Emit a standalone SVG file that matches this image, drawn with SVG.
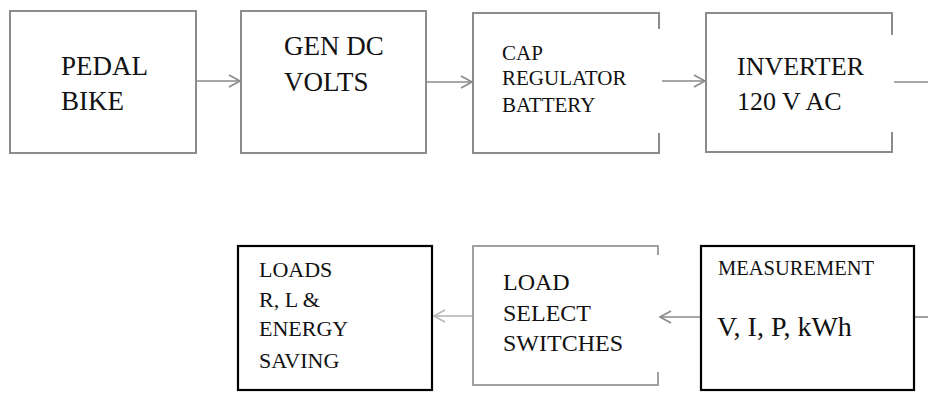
<svg xmlns="http://www.w3.org/2000/svg" width="928" height="393" viewBox="0 0 928 393">
<defs>
<style>
.gbox{fill:none;stroke:#8c8c8c;stroke-width:2}
.kbox{fill:#fff;stroke:#000;stroke-width:2.2}
.conn{fill:none;stroke:#8a8a8a;stroke-width:1.6}
.lt{stroke:#b0b0b0}
text{font-family:"Liberation Serif","DejaVu Serif",serif;fill:#111}
</style>
<marker id="ah" markerWidth="14" markerHeight="16" refX="12" refY="7" orient="auto" markerUnits="userSpaceOnUse" viewBox="0 0 14 14">
<path d="M1,1 L12,7 L1,13" fill="none" stroke="#8a8a8a" stroke-width="1.6"/>
</marker>
<marker id="ahl" markerWidth="14" markerHeight="16" refX="12" refY="7" orient="auto" markerUnits="userSpaceOnUse" viewBox="0 0 14 14">
<path d="M1,1 L12,7 L1,13" fill="none" stroke="#b8b8b8" stroke-width="1.6"/>
</marker>
</defs>
<rect width="928" height="393" fill="#fff"/>
<g id="connectors">
<line class="conn" x1="196" y1="81" x2="240" y2="81" marker-end="url(#ah)"/>
<line class="conn" x1="426" y1="82" x2="472" y2="82" marker-end="url(#ah)"/>
<line class="conn" x1="662" y1="81" x2="705" y2="81" marker-end="url(#ah)"/>
<line class="conn" x1="894" y1="82" x2="928" y2="82"/>
<line class="conn" x1="928" y1="317" x2="914" y2="317"/>
<line class="conn" x1="701" y1="317" x2="660" y2="317" marker-end="url(#ah)"/>
<line class="conn lt" x1="473" y1="316" x2="434" y2="316" marker-end="url(#ahl)"/>
</g>
<g id="pedal-bike">
<rect class="gbox" x="10" y="11" width="186" height="142"/>
<text x="61" y="75" font-size="27">PEDAL</text>
<text x="61" y="110" font-size="27">BIKE</text>
</g>
<g id="gen-dc-volts">
<rect class="gbox" x="241" y="11" width="185" height="142"/>
<text x="284" y="55" font-size="27">GEN DC</text>
<text x="284" y="91" font-size="27">VOLTS</text>
</g>
<g id="cap-regulator-battery">
<path class="gbox" d="M659,29 L659,13 L473,13 L473,153 L659,153 L659,133"/>
<text x="502" y="60" font-size="21">CAP</text>
<text x="502" y="85" font-size="21">REGULATOR</text>
<text x="502" y="112" font-size="21">BATTERY</text>
</g>
<g id="inverter">
<path class="gbox" d="M892,35 L892,13 L706,13 L706,152 L892,152 L892,132"/>
<text x="737" y="75" font-size="26">INVERTER</text>
<text x="737" y="110" font-size="26">120 V AC</text>
</g>
<g id="loads">
<rect class="kbox" x="238" y="246" width="194" height="144"/>
<text x="259" y="277" font-size="22">LOADS</text>
<text x="259" y="307" font-size="22">R, L &amp;</text>
<text x="259" y="336" font-size="22">ENERGY</text>
<text x="259" y="368" font-size="22">SAVING</text>
</g>
<g id="load-select-switches">
<path class="gbox" style="stroke:#a0a0a0" d="M658,255 L658,246 L473,246 L473,385 L658,385 L658,372"/>
<text x="503" y="290" font-size="24">LOAD</text>
<text x="503" y="321" font-size="24">SELECT</text>
<text x="503" y="351" font-size="24">SWITCHES</text>
</g>
<g id="measurement">
<rect class="kbox" x="701" y="246" width="213" height="144"/>
<text x="718" y="275" font-size="20.5">MEASUREMENT</text>
<text x="717" y="336" font-size="28">V, I, P, kWh</text>
</g>
</svg>
